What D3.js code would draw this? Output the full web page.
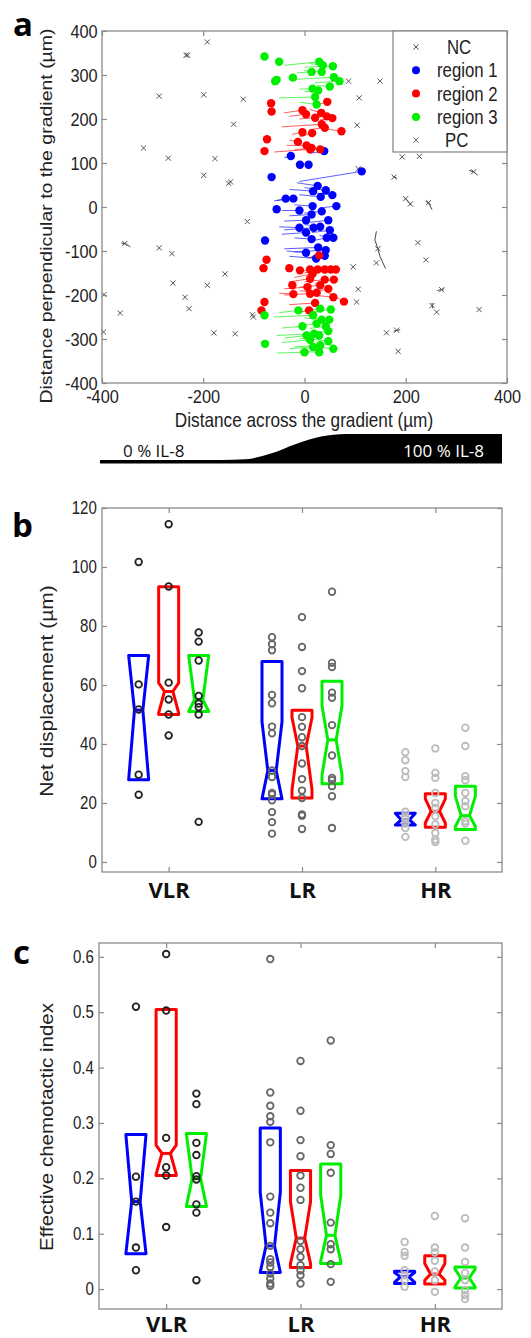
<!DOCTYPE html>
<html><head><meta charset="utf-8">
<script src="https://cdn.jsdelivr.net/npm/d3@7"></script>
<style>body{margin:0;background:#fff}svg{display:block}</style>
</head><body>
<svg id="fig" width="531" height="1338"></svg>
<script>
// ================= Panel a data (µm) =================
// trajectories: [xStart, yStart, xEnd, yEnd]; end point carries the dot
const region1 = [
 [10,122,39,127],[-40,112,-27,116],[-9,96,-9,96],[8,96,8,96],[-10,58,113,81],[-65,68,-65,68],
 [-15,55,26,48],[-30,40,17,36],[0,44,42,38],[-10,28,32,23],[20,32,55,27],[-60,14,-22,19],
 [-55,15,-37,19],[30,-2,63,2],[-20,5,16,2],[-55,-5,-55,-5],[-45,-8,-10,-8],[0,-14,34,-10],
 [-30,-20,14,-17],[10,-35,47,-30],[-40,-32,3,-30],[-50,-45,-10,-47],[-40,-52,18,-47],[0,-40,31,-45],
 [15,-58,50,-53],[-45,-62,3,-58],[-20,-70,14,-73],[10,-78,44,-70],[30,-65,57,-70],[-78,-76,-78,-76],
 [-40,-95,27,-92],[-20,-102,42,-98],[-35,-100,3,-104],[-30,-112,23,-117],[5,-115,40,-111]
];
const region2 = [
 [-66,236,-66,236],[-65,217,-65,217],[25,232,45,239],[-40,214,-4,220],[-30,206,3,211],[-10,200,21,203],
 [10,222,33,214],[20,204,44,206],[30,198,55,202],[-45,182,34,188],[10,176,40,180],[40,178,73,172],
 [-25,165,-4,170],[-10,160,15,168],[-74,154,-74,154],[-30,152,-13,148],[-35,140,4,140],[-20,130,14,134],
 [0,135,31,131],[-60,125,11,131],[-79,127,-79,127],
 [10,-115,29,-110],[-75,-120,-75,-120],[-81,-139,-81,-139],[-30,-139,-30,-139],[-15,-150,-9,-144],
 [-10,-148,11,-142],[0,-150,26,-142],[10,-145,40,-142],[20,-150,52,-142],[35,-148,62,-142],
 [-20,-160,16,-152],[-30,-170,11,-163],[0,-170,40,-165],[20,-175,58,-165],[-24,-178,-24,-178],
 [-40,-186,6,-182],[-10,-182,31,-178],[10,-195,47,-186],[-50,-196,-22,-198],[-40,-200,11,-197],
 [-10,-190,24,-195],[15,-200,57,-205],[40,-190,78,-215],[-79,-216,-79,-216],[-30,-222,21,-218],
 [-15,-240,9,-235],[-85,-235,-85,-235]
];
const region3 = [
 [-79,342,-79,342],[-50,330,-50,330],[-40,322,29,330],[0,318,56,320],[10,326,36,322],[-15,305,14,307],
 [0,310,34,307],[-55,289,-55,289],[-58,286,-58,286],[-23,294,-23,294],[-20,290,58,295],[20,282,69,286],
 [-10,268,16,269],[0,262,27,265],[25,276,50,274],[-50,248,21,250],[-10,238,24,233],
 [-79,-246,-79,-246],[-50,-240,-12,-235],[0,-236,31,-231],[20,-238,52,-233],[-60,-250,17,-246],
 [0,-252,34,-256],[15,-262,49,-256],[-10,-270,24,-265],[-45,-275,-4,-271],[10,-276,42,-271],
 [0,-285,47,-282],[-55,-292,19,-288],[-40,-298,4,-292],[-10,-300,29,-292],[-45,-308,11,-302],
 [10,-300,47,-305],[-20,-318,31,-314],[25,-318,57,-322],[-30,-322,17,-318],[-55,-332,0,-330],
 [-10,-328,29,-330],[-78,-311,-78,-311]
];
const ncMarks = [
 [-192,375],[-234,345],[-231,345],[-287,252],[-199,255],[-121,245],[-140,188],[-318,134],[-269,111],
 [-177,110],[-199,72],[-150,54],[-146,57],[-113,-33],[-355,-83],[-287,-93],[-262,-106],[-157,-152],
 [-260,-173],[-192,-178],[-396,-199],[-236,-205],[-228,-231],[-364,-241],[-103,-245],[-101,-250],
 [-179,-286],[-137,-288],[-397,-284]
];
const pcMarks = [
 [87,286],[149,286],[108,248],[104,186],[193,114],[227,115],[106,87],[177,68],[334,80],[200,19],
 [209,7],[245,10],[224,-81],[240,-120],[145,-95],[142,-127],[96,-136],[106,-187],[103,-216],
 [271,-188],[252,-224],[261,-239],[345,-233],[162,-286],[182,-280],[185,-328]
];
const controlTrails = [
 [[-362,-82],[-352,-84],[-344,-91]],
 [[142,-55],[139,-75],[145,-95],[149,-112],[160,-140]],
 [[325,83],[334,80],[342,72]],
 [[240,13],[247,5],[252,-6]],
 [[197,22],[205,12],[211,4]],
 [[262,-190],[276,-186]],
 [[176,-282],[189,-279]],
 [[174,70],[182,66]],
 [[252,-218],[253,-230]]
];
const xTicksA = [-400,-200,0,200,400];
const yTicksA = [-400,-300,-200,-100,0,100,200,300,400];
const legendLabels = ["NC","region 1","region 2","region 3","PC"];
// IL-8 concentration profile across the channel (fraction of max)
const gradientProfile = [[-400,0],[-160,0],[-110,0.03],[-60,0.25],[-10,0.62],[40,0.9],[90,1],[400,1]];

// ================= Panels b, c data =================
const groups = ["VLR","LR","HR"];
const regionColors = ["#0000ff","#ff0000","#00ee00"];
const groupPointColors = ["#222222","#666666","#bbbbbb"];
// boxes: [q1, notchLow, median, notchHigh, q3]; order VLR r1,r2,r3, LR r1,r2,r3, HR r1,r2,r3
const dispBoxes = [
 [27.9,27.9,51.5,70,70],[50,50.5,57.8,60.7,93.3],[51,51,55,70,70],
 [21.4,21.4,31,47.5,68],[21.7,24.5,39.3,49,51.4],[26.5,29.5,41.4,53,61.3],
 [12.5,12.5,14.3,16.5,16.5],[11.8,13.2,17.2,21.4,23.1],[11,12,15.7,22.3,25.7]
];
const dispPoints = [
 [101.7,60.2,51.7,29.6,22.8],
 [114.5,93.4,60.8,55.1,50.0,42.9],
 [77.8,74.7,68.3,56.3,53.7,52.5,50.0,13.6],
 [76.2,73.8,71.8,56.6,53.8,45.9,43.6,31,28.8,23.4,22.9,20.9,16.9,13.5,9.6],
 [83.0,72.9,64.7,58.9,49.1,45.8,42.3,39.3,33.4,28.1,24.2,21.7,16.1,15.7,11.2],
 [91.6,67.5,66.1,57.4,55.7,46.4,36.1,28.5,27.7,25.7,22.3,11.5],
 [37.2,34.5,30.8,28.8,17.0,15.5,14.5,13.0,11.5,8.5],
 [38.5,30.2,28.5,23.4,20.0,18.3,15.5,12.7,9.8,7.6,6.8],
 [45.5,39.3,29.1,27.7,23.4,20.6,18.9,13.8,13.0,7.2]
];
const ceiBoxes = [
 [0.064,0.064,0.158,0.279,0.279],[0.205,0.207,0.245,0.26,0.505],[0.149,0.149,0.200,0.281,0.281],
 [0.030,0.030,0.078,0.175,0.291],[0.039,0.046,0.092,0.158,0.214],[0.046,0.050,0.097,0.170,0.226],
 [0.010,0.012,0.022,0.030,0.032],[0.009,0.016,0.027,0.046,0.060],[0.002,0.004,0.020,0.036,0.040]
];
const ceiPoints = [
 [0.510,0.203,0.158,0.075,0.034],
 [0.605,0.503,0.273,0.220,0.205,0.112],
 [0.353,0.334,0.264,0.242,0.204,0.198,0.153,0.138,0.016],
 [0.596,0.355,0.331,0.312,0.302,0.265,0.167,0.138,0.119,0.078,0.054,0.048,0.040,0.028,0.019,0.010,0.006],
 [0.412,0.322,0.269,0.240,0.205,0.183,0.161,0.087,0.072,0.058,0.043,0.034,0.025,0.010],
 [0.449,0.260,0.244,0.210,0.120,0.081,0.072,0.045,0.013],
 [0.085,0.067,0.060,0.034,0.025,0.016,0.004],
 [0.132,0.075,0.066,0.051,0.032,0.016,-0.005],
 [0.128,0.075,0.049,0.029,0.016,-0.002,-0.011,-0.018]
];
const dispTicks = [0,20,40,60,80,100,120];
const ceiTicks = [0,0.1,0.2,0.3,0.4,0.5,0.6];

// ================= drawing =================
const svg = d3.select("#fig");
svg.append("rect").attr("width",531).attr("height",1338).attr("fill","#fff");
const AX = "#8a8a8a";
const SANS = "'Liberation Sans', Arial, sans-serif";
const CAL = "'Open Sans', 'Lato', sans-serif";
const SQ = 0.86; // horizontal squeeze of the original figure's text

function frame(g, x0, x1, y0, y1){
  g.append("rect").attr("x",x0).attr("y",y0).attr("width",x1-x0).attr("height",y1-y0)
   .attr("fill","none").attr("stroke",AX).attr("stroke-width",1.3);
}
function styleAxis(sel, size){
  sel.select(".domain").remove();
  sel.selectAll(".tick line").attr("stroke",AX).attr("stroke-width",1.2);
  sel.selectAll(".tick text").attr("fill","#222").style("font-family",SANS).style("font-size",size+"px")
     .attr("transform",`scale(${SQ},1)`);
}
const fmt = d => String(d);
function hText(x,y,str,size,anchor){
  return svg.append("text").attr("transform",`translate(${x},${y}) scale(${SQ},1)`)
    .attr("text-anchor",anchor||"start").text(str)
    .style("font-family",SANS).style("font-size",size+"px").attr("fill","#222");
}
function vText(x,y,str,size){
  return svg.append("text").attr("transform",`translate(${x},${y}) rotate(-90) scale(1,${SQ})`)
    .attr("text-anchor","middle").text(str)
    .style("font-family",SANS).style("font-size",size+"px").attr("fill","#222");
}

// ---------- Panel a ----------
const xA = d3.scaleLinear().domain([-400,400]).range([102,507]);
const yA = d3.scaleLinear().domain([-400,400]).range([383,31]);
const gA = svg.append("g");

const line = d3.line().x(d=>xA(d[0])).y(d=>yA(d[1]));
[region1,region2,region3].forEach((reg,i)=>{
  gA.append("g").selectAll("path").data(reg.filter(d=>d[0]!==d[2]||d[1]!==d[3])).join("path")
    .attr("d",d=>line([[d[0],d[1]],[d[2],d[3]]]))
    .attr("fill","none").attr("stroke",regionColors[i]).attr("stroke-width",0.8).attr("opacity",0.8);
});
gA.append("g").selectAll("path").data(controlTrails).join("path")
  .attr("d",line).attr("fill","none").attr("stroke","#333").attr("stroke-width",0.9);

const xMark = "M-2.6,-2.6L2.6,2.6M-2.6,2.6L2.6,-2.6";
gA.append("g").selectAll("path").data(ncMarks.concat(pcMarks)).join("path")
  .attr("transform",d=>`translate(${xA(d[0])},${yA(d[1])})`)
  .attr("d",xMark).attr("stroke","#555").attr("stroke-width",1).attr("fill","none");

[region1,region2,region3].forEach((reg,i)=>{
  gA.append("g").selectAll("circle").data(reg).join("circle")
    .attr("cx",d=>xA(d[2])).attr("cy",d=>yA(d[3])).attr("r",4.2).attr("fill",regionColors[i]);
});

frame(gA,102,507,31,383);
gA.append("g").attr("transform","translate(0,383)")
  .call(d3.axisBottom(xA).tickValues(xTicksA).tickSize(-5).tickPadding(7).tickFormat(fmt))
  .call(s=>styleAxis(s,19));
gA.append("g").attr("transform","translate(0,31)")
  .call(d3.axisTop(xA).tickValues(xTicksA).tickSize(-5).tickFormat(""))
  .call(s=>styleAxis(s,19));
gA.append("g").attr("transform","translate(102,0)")
  .call(d3.axisLeft(yA).tickValues(yTicksA).tickSize(-5).tickPadding(5).tickFormat(fmt))
  .call(s=>styleAxis(s,19));
gA.append("g").attr("transform","translate(507,0)")
  .call(d3.axisRight(yA).tickValues(yTicksA).tickSize(-5).tickFormat(""))
  .call(s=>styleAxis(s,19));

// legend
const lg = gA.append("g");
lg.append("rect").attr("x",393).attr("y",31).attr("width",114).attr("height",121)
  .attr("fill","#fff").attr("stroke",AX).attr("stroke-width",1.3);
const legendTextX = [447,437,437,437,445];
legendLabels.forEach((lab,i)=>{
  const yy = 47 + i*23.3;
  if(i===0||i===4){
    lg.append("path").attr("transform",`translate(416,${yy})`).attr("d",xMark)
      .attr("stroke","#555").attr("stroke-width",1).attr("fill","none");
  } else {
    lg.append("circle").attr("cx",416).attr("cy",yy).attr("r",4).attr("fill",regionColors[i-1]);
  }
  hText(legendTextX[i], yy+7, lab, 19.5);
});

hText(304,427,"Distance across the gradient (µm)",20,"middle");
vText(52,216,"Distance perpendicular to the gradient (µm)",19.5);

// gradient bar
const xG = d3.scaleLinear().domain([-400,400]).range([100,502]);
const cG = d3.scaleLinear().domain([0,1]).range([460,434]);
const area = d3.area().x(d=>xG(d[0])).y0(463.5).y1(d=>cG(d[1])).curve(d3.curveMonotoneX);
svg.append("path").datum(gradientProfile).attr("d",area).attr("fill","#000");
svg.append("text").attr("x",123).attr("y",457).text("0 % IL-8")
  .style("font-family",CAL).style("font-size","17px").attr("fill","#111");
svg.append("text").attr("x",484).attr("y",457).attr("text-anchor","end").text("100 % IL-8")
  .style("font-family",CAL).style("font-size","17px").attr("fill","#fff");

// panel letters
[["a",13,36],["b",12,537],["c",13,964]].forEach(([t,x,y])=>{
  svg.append("text").attr("x",x).attr("y",y).text(t)
    .style("font-family",CAL).style("font-weight","bold").style("font-size","33px").attr("fill","#000");
});

// ---------- Panels b and c ----------
function boxPanel(opt){
  const g = svg.append("g");
  const x = d3.scaleLinear().domain([0.5,3.5]).range([opt.left,opt.right]);
  const y = d3.scaleLinear().domain(opt.yDomain).range([opt.bottom,opt.top]);
  const offs = [-0.225,0,0.225];
  const hw = x(1.075)-x(1), nw = hw*0.42;
  opt.boxes.forEach((b,k)=>{
    const gi = Math.floor(k/3), ri = k%3;
    const xc = x(gi+1+offs[ri]);
    const L=xc-hw, R=xc+hw, Ln=xc-nw, Rn=xc+nw;
    const pts = [[L,y(b[0])],[L,y(b[1])],[Ln,y(b[2])],[L,y(b[3])],[L,y(b[4])],
                 [R,y(b[4])],[R,y(b[3])],[Rn,y(b[2])],[R,y(b[1])],[R,y(b[0])]];
    g.append("path").attr("d","M"+pts.map(p=>p.join(",")).join("L")+"Z")
      .attr("fill","none").attr("stroke",regionColors[ri]).attr("stroke-width",3).attr("stroke-linejoin","round");
    g.append("line").attr("x1",Ln).attr("x2",Rn).attr("y1",y(b[2])).attr("y2",y(b[2]))
      .attr("stroke",regionColors[ri]).attr("stroke-width",3);
  });
  opt.points.forEach((arr,k)=>{
    const gi = Math.floor(k/3), ri = k%3;
    const xc = x(gi+1+offs[ri]);
    g.append("g").selectAll("circle").data(arr).join("circle")
      .attr("cx",xc).attr("cy",d=>y(d)).attr("r",3.3)
      .attr("fill","none").attr("stroke",groupPointColors[gi]).attr("stroke-width",1.8);
  });
  frame(g,opt.left,opt.right,opt.top,opt.bottom);
  g.append("g").attr("transform",`translate(${opt.left},0)`)
    .call(d3.axisLeft(y).tickValues(opt.ticks).tickSize(-5).tickPadding(6).tickFormat(fmt))
    .call(s=>styleAxis(s,17.5));
  g.append("g").attr("transform",`translate(${opt.right},0)`)
    .call(d3.axisRight(y).tickValues(opt.ticks).tickSize(-5).tickFormat(""))
    .call(s=>styleAxis(s,17));
  g.append("g").attr("transform",`translate(0,${opt.top})`)
    .call(d3.axisTop(x).tickValues([1,2,3]).tickSize(-5).tickFormat(""))
    .call(s=>styleAxis(s,17));
  const xb = g.append("g").attr("transform",`translate(0,${opt.bottom})`)
    .call(d3.axisBottom(x).tickValues([1,2,3]).tickSize(-5).tickPadding(opt.catPad).tickFormat((d,i)=>groups[i]));
  xb.select(".domain").remove();
  xb.selectAll(".tick line").attr("stroke",AX).attr("stroke-width",1.2);
  xb.selectAll(".tick text").style("font-family",CAL).style("font-weight","bold")
    .style("font-size","22px").attr("fill","#111");
  vText(53,opt.labelY,opt.label,opt.labelSize);
}
boxPanel({left:102,right:502,top:508,bottom:872,yDomain:[-3.4,120],ticks:dispTicks,catPad:10,
  boxes:dispBoxes,points:dispPoints,label:"Net displacement (µm)",labelY:691,labelSize:21});
boxPanel({left:99,right:502,top:943,bottom:1309,yDomain:[-0.036,0.625],ticks:ceiTicks,catPad:7,
  boxes:ceiBoxes,points:ceiPoints,label:"Effective chemotactic index",labelY:1127,labelSize:20.5});
</script>
</body></html>
